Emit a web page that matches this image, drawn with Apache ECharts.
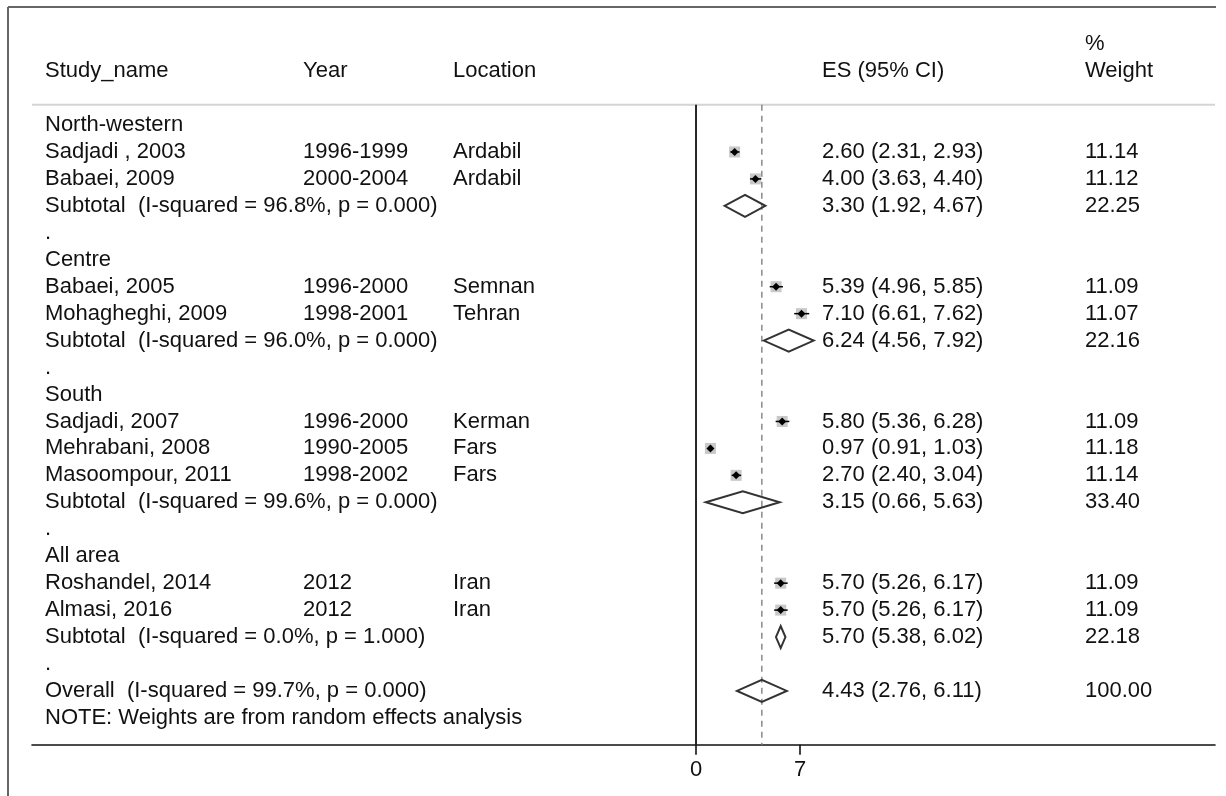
<!DOCTYPE html>
<html>
<head>
<meta charset="utf-8">
<script src="https://cdn.jsdelivr.net/npm/echarts@6/dist/echarts.min.js"></script>
<style>
html,body{margin:0;padding:0;background:#fff;}
#chart{width:1226px;height:796px;}
</style>
</head>
<body>
<div id="chart"></div>
<script>
// ---------------- DATA ----------------
const headerCols = ['Study_name', 'Year', 'Location', 'ES (95% CI)', 'Weight'];
const weightHeaderTop = '%';

const groupNames = ['North-western', 'Centre', 'South', 'All area'];

const studyNames = ['Sadjadi , 2003', 'Babaei, 2009', 'Babaei, 2005', 'Mohagheghi, 2009',
  'Sadjadi, 2007', 'Mehrabani, 2008', 'Masoompour, 2011', 'Roshandel, 2014', 'Almasi, 2016'];
const studyYears = ['1996-1999', '2000-2004', '1996-2000', '1998-2001',
  '1996-2000', '1990-2005', '1998-2002', '2012', '2012'];
const studyLocations = ['Ardabil', 'Ardabil', 'Semnan', 'Tehran',
  'Kerman', 'Fars', 'Fars', 'Iran', 'Iran'];
const studyGroup = [0, 0, 1, 1, 2, 2, 2, 3, 3];
const studyES = [2.60, 4.00, 5.39, 7.10, 5.80, 0.97, 2.70, 5.70, 5.70];
const studyLo = [2.31, 3.63, 4.96, 6.61, 5.36, 0.91, 2.40, 5.26, 5.26];
const studyHi = [2.93, 4.40, 5.85, 7.62, 6.28, 1.03, 3.04, 6.17, 6.17];
const studyWeight = [11.14, 11.12, 11.09, 11.07, 11.09, 11.18, 11.14, 11.09, 11.09];

const subtotalI2 = ['96.8%', '96.0%', '99.6%', '0.0%'];
const subtotalP = ['0.000', '0.000', '0.000', '1.000'];
const subtotalES = [3.30, 6.24, 3.15, 5.70];
const subtotalLo = [1.92, 4.56, 0.66, 5.38];
const subtotalHi = [4.67, 7.92, 5.63, 6.02];
const subtotalWeight = [22.25, 22.16, 33.40, 22.18];

const overallI2 = '99.7%';
const overallP = '0.000';
const overallES = 4.43;
const overallLo = 2.76;
const overallHi = 6.11;
const overallWeight = 100.00;

const noteText = 'NOTE: Weights are from random effects analysis';
const xTicks = [0, 7];

// ---------------- BUILD ROWS ----------------
const fmt = v => v.toFixed(2);
const ciText = (e, l, h) => fmt(e) + ' (' + fmt(l) + ', ' + fmt(h) + ')';

const textRows = [];   // [row, name, year, loc, es, weight]
const studyRows = [];  // [row, es, lo, hi]
const diamondRows = []; // [row, es, lo, hi]
let row = 0;
groupNames.forEach((g, gi) => {
  textRows.push([row, g, '', '', '', '']); row++;
  studyNames.forEach((n, i) => {
    if (studyGroup[i] !== gi) return;
    textRows.push([row, n, studyYears[i], studyLocations[i],
      ciText(studyES[i], studyLo[i], studyHi[i]), fmt(studyWeight[i])]);
    studyRows.push([row, studyES[i], studyLo[i], studyHi[i]]);
    row++;
  });
  textRows.push([row, 'Subtotal  (I-squared = ' + subtotalI2[gi] + ', p = ' + subtotalP[gi] + ')', '', '',
    ciText(subtotalES[gi], subtotalLo[gi], subtotalHi[gi]), fmt(subtotalWeight[gi])]);
  diamondRows.push([row, subtotalES[gi], subtotalLo[gi], subtotalHi[gi]]);
  row++;
  textRows.push([row, '.', '', '', '', '']); row++;
});
textRows.push([row, 'Overall  (I-squared = ' + overallI2 + ', p = ' + overallP + ')', '', '',
  ciText(overallES, overallLo, overallHi), fmt(overallWeight)]);
diamondRows.push([row, overallES, overallLo, overallHi]);
row++;
textRows.push([row, noteText, '', '', '', '']);

// header rows
textRows.push([-2, headerCols[0], headerCols[1], headerCols[2], headerCols[3], headerCols[4]]);
textRows.push([-3, '', '', '', '', weightHeaderTop]);

// ---------------- LAYOUT ----------------
const FONT = '22px "Liberation Sans", Arial, sans-serif';
const COLX = [45, 303, 453, 822, 1085];
const TXT = '#111';
const HEADER_LINE_ROW = -0.75;

const chart = echarts.init(document.getElementById('chart'), null, {renderer: 'canvas'});

function txt(x, y, s) {
  return {type: 'text', x: x, y: y, silent: true,
    style: {text: s, font: FONT, fill: TXT, align: 'left', verticalAlign: 'middle',
      textAlign: 'left', textVerticalAlign: 'middle'}};
}

const option = {
  animation: false,
  backgroundColor: '#fff',
  grid: {left: 32, right: 11, top: 3.725, bottom: 51.15, containLabel: false},
  xAxis: {
    type: 'value', min: -44.69, max: 34.93,
    axisLine: {show: true, onZero: false, lineStyle: {color: '#111', width: 1.6}},
    axisTick: {show: true, customValues: xTicks, length: 10, lineStyle: {color: '#111', width: 1.6}},
    axisLabel: {show: true, customValues: xTicks, margin: 14, color: TXT,
      fontFamily: '"Liberation Sans", Arial, sans-serif', fontSize: 22},
    splitLine: {show: false}
  },
  yAxis: {type: 'value', inverse: true, min: -4.5, max: 23, show: false},
  graphic: [
    {type: 'line', shape: {x1: 8, y1: 7, x2: 1216, y2: 7}, style: {stroke: '#666', lineWidth: 2}},
    {type: 'line', shape: {x1: 8, y1: 7, x2: 8, y2: 796}, style: {stroke: '#666', lineWidth: 2}}
  ],
  series: [
    { // reference lines + header separator
      type: 'custom', data: [[0]], silent: true, z: 1,
      renderItem: function (params, api) {
        const cs = params.coordSys;
        const yTop = api.coord([0, HEADER_LINE_ROW])[1];
        const yBot = cs.y + cs.height;
        const x0 = api.coord([0, 0])[0];
        const xo = api.coord([overallES, 0])[0];
        return {type: 'group', children: [
          {type: 'line', shape: {x1: cs.x, y1: yTop, x2: cs.x + cs.width, y2: yTop},
            style: {stroke: '#d4d4d4', lineWidth: 2}},
          {type: 'line', shape: {x1: x0, y1: yTop, x2: x0, y2: yBot},
            style: {stroke: '#111', lineWidth: 1.8}},
          {type: 'line', shape: {x1: xo, y1: yTop, x2: xo, y2: yBot},
            style: {stroke: '#8a8a8a', lineWidth: 1.5, lineDash: [6, 5]}}
        ]};
      }
    },
    { // table text
      type: 'custom', data: textRows, silent: true, z: 3,
      renderItem: function (params, api) {
        const r = api.value(0);
        const y = api.coord([0, r])[1];
        const d = textRows[params.dataIndex];
        const children = [];
        for (let c = 0; c < 5; c++) {
          if (d[c + 1]) children.push(txt(COLX[c], y, d[c + 1]));
        }
        return {type: 'group', children: children};
      }
    },
    { // study markers
      type: 'custom', data: studyRows, silent: true, z: 4,
      renderItem: function (params, api) {
        const r = api.value(0);
        const p = api.coord([api.value(1), r]);
        const pl = api.coord([api.value(2), r]);
        const ph = api.coord([api.value(3), r]);
        const b = 5.5;
        const m = 4;
        return {type: 'group', children: [
          {type: 'rect', shape: {x: p[0] - b, y: p[1] - b, width: 2 * b, height: 2 * b},
            style: {fill: '#c8c8c8'}},
          {type: 'line', shape: {x1: pl[0], y1: p[1], x2: ph[0], y2: p[1]},
            style: {stroke: '#000', lineWidth: 1.5}},
          {type: 'polygon', shape: {points: [[p[0] - m, p[1]], [p[0], p[1] - m], [p[0] + m, p[1]], [p[0], p[1] + m]]},
            style: {fill: '#000'}}
        ]};
      }
    },
    { // pooled diamonds
      type: 'custom', data: diamondRows, silent: true, z: 4,
      renderItem: function (params, api) {
        const r = api.value(0);
        const p = api.coord([api.value(1), r]);
        const pl = api.coord([api.value(2), r]);
        const ph = api.coord([api.value(3), r]);
        const h = 11;
        return {type: 'polygon',
          shape: {points: [[pl[0], p[1]], [p[0], p[1] - h], [ph[0], p[1]], [p[0], p[1] + h]]},
          style: {fill: 'none', stroke: '#333', lineWidth: 2, lineJoin: 'miter'}};
      }
    }
  ]
};
chart.setOption(option);
</script>
</body>
</html>
